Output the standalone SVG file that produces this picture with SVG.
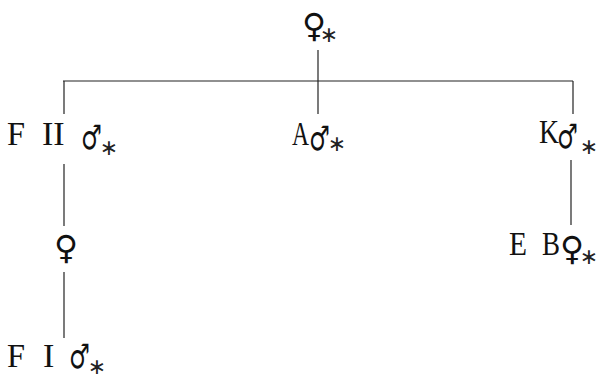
<svg xmlns="http://www.w3.org/2000/svg" width="596" height="374" viewBox="0 0 596 374">
<style>
.t{font-family:"Liberation Serif","DejaVu Serif",serif;font-size:34px;fill:#111}
.s{font-family:"DejaVu Sans",sans-serif;font-size:27px;fill:#111}
.f{font-family:"DejaVu Sans",sans-serif;font-size:33px;fill:#111}
.b{font-weight:bold}
.a{font-family:"DejaVu Sans",sans-serif;font-size:22px;fill:#222;text-anchor:middle}
.l{stroke:#222;stroke-width:1.2;fill:none}
</style>
<rect width="596" height="374" fill="#fff"/>
<g id="connectors">
<line class="l" x1="63" y1="81" x2="573" y2="81"/>
<line class="l" x1="318" y1="50" x2="318" y2="114"/>
<line class="l" x1="64" y1="81" x2="64" y2="114"/>
<line class="l" x1="64" y1="164" x2="64" y2="226"/>
<line class="l" x1="64" y1="272" x2="64" y2="338"/>
<line class="l" x1="573" y1="81" x2="573" y2="114"/>
<line class="l" x1="571" y1="160" x2="571" y2="225"/>
</g>
<g id="top"><text x="302" y="37" class="f b">♀</text><text x="329" y="42" class="a">∗</text></g>
<g id="f2"><text x="7" y="145" class="t" textLength="18" lengthAdjust="spacingAndGlyphs">F</text><text x="42" y="145" class="t">II</text><text class="s" transform="matrix(.86,0,0,1.25,81,149)">♂</text><text x="109" y="155" class="a">∗</text></g>
<g id="a"><text x="292" y="145" class="t" textLength="17" lengthAdjust="spacingAndGlyphs">A</text><text class="s b" transform="matrix(.86,0,0,1.25,309,150)">♂</text><text x="337" y="151" class="a">∗</text></g>
<g id="k"><text x="539" y="143" class="t" textLength="20" lengthAdjust="spacingAndGlyphs">K</text><text class="s" transform="matrix(.86,0,0,1.25,557,148)">♂</text><text x="589" y="154" class="a">∗</text></g>
<g id="fem"><text x="54" y="259" class="f">♀</text></g>
<g id="eb"><text x="509" y="255" class="t" textLength="18" lengthAdjust="spacingAndGlyphs">E</text><text x="542" y="255" class="t" textLength="18" lengthAdjust="spacingAndGlyphs">B</text><text x="560" y="260" class="f b">♀</text><text x="589" y="264" class="a">∗</text></g>
<g id="f1"><text x="7" y="367" class="t" textLength="18" lengthAdjust="spacingAndGlyphs">F</text><text x="43" y="367" class="t">I</text><text class="s" transform="matrix(.86,0,0,1.25,69,368)">♂</text><text x="97" y="374" class="a">∗</text></g>
</svg>
